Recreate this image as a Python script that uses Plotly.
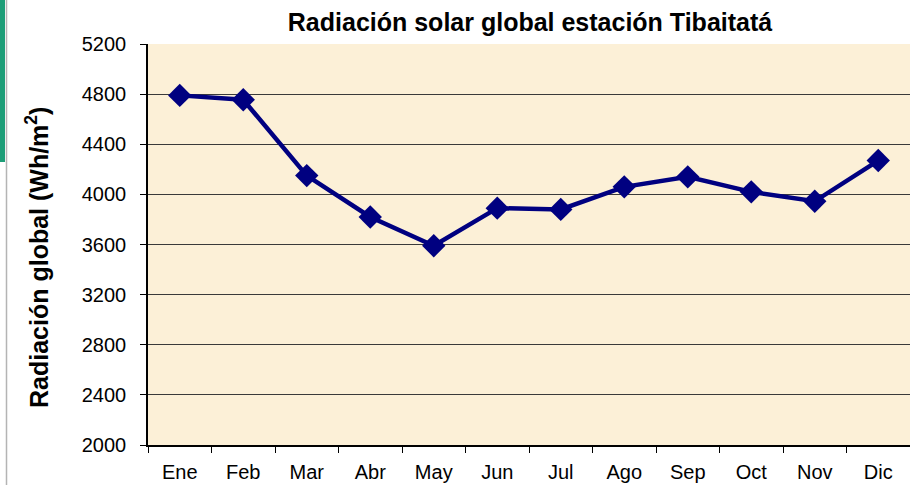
import plotly.graph_objects as go

meses = ['Ene', 'Feb', 'Mar', 'Abr', 'May', 'Jun', 'Jul', 'Ago', 'Sep', 'Oct', 'Nov', 'Dic']
radiacion = [4790, 4755, 4150, 3820, 3590, 3890, 3880, 4060, 4140, 4020, 3945, 4270]
y_ticks = [2000, 2400, 2800, 3200, 3600, 4000, 4400, 4800, 5200]

W, H = 910, 485
L, R, T, B = 148, 0, 44, 40
pw = W - L - R
ph = H - T - B


def px_x(px):
    return (px - L) / pw


def px_y(py):
    return (H - B - py) / ph


fig = go.Figure()

fig.add_trace(go.Scatter(
    x=meses, y=radiacion, mode='lines+markers',
    line=dict(color='#000080', width=4.5),
    marker=dict(symbol='diamond', size=18, color='#000080',
                line=dict(width=0)),
    showlegend=False,
))

font = 'Liberation Sans, Arial, sans-serif'

fig.update_layout(
    width=W, height=H,
    margin=dict(l=L, r=R, t=T, b=B),
    paper_bgcolor='white',
    plot_bgcolor='#fcf0d7',
    font=dict(family=font, size=20, color='black'),
    title=dict(text='<b>Radiación solar global estación Tibaitatá</b>',
               x=530 / W, xanchor='center',
               y=1 - 22 / H, yanchor='middle',
               font=dict(size=25, color='black')),
    annotations=[dict(
        text='<b>Radiación global (Wh/m<sup>2</sup>)</b>',
        xref='paper', yref='paper', x=px_x(37), y=px_y(258),
        xanchor='center', yanchor='middle', textangle=-90,
        showarrow=False, font=dict(size=25, color='black'),
    )],
    shapes=[
        dict(type='rect', xref='paper', yref='paper',
             x0=px_x(0), x1=px_x(5), y0=px_y(162), y1=px_y(0),
             fillcolor='#1e9e78', line=dict(width=0), layer='above'),
        dict(type='line', xref='paper', yref='paper',
             x0=px_x(6.5), x1=px_x(6.5), y0=px_y(485), y1=px_y(0),
             line=dict(color='#b4b4b4', width=1.5)),
    ],
)

fig.update_xaxes(
    type='category', tickson='boundaries', ticks='outside', ticklen=6,
    tickcolor='black', showgrid=False, showline=True, linecolor='black',
    linewidth=1.5, range=[-0.5, 11.5], ticklabelstandoff=8,
    tickfont=dict(size=20),
)
fig.update_yaxes(
    range=[2000, 5200], tickvals=y_ticks, ticks='outside', ticklen=6,
    tickcolor='black', showgrid=True, gridcolor='#3a3a3a', gridwidth=1.2,
    showline=True, linecolor='black', linewidth=1.5, zeroline=False,
    ticklabelstandoff=10, tickfont=dict(size=20),
)

fig.write_html('out.html', config={'displayModeBar': False},
               post_script="document.body.style.margin='0px';")
